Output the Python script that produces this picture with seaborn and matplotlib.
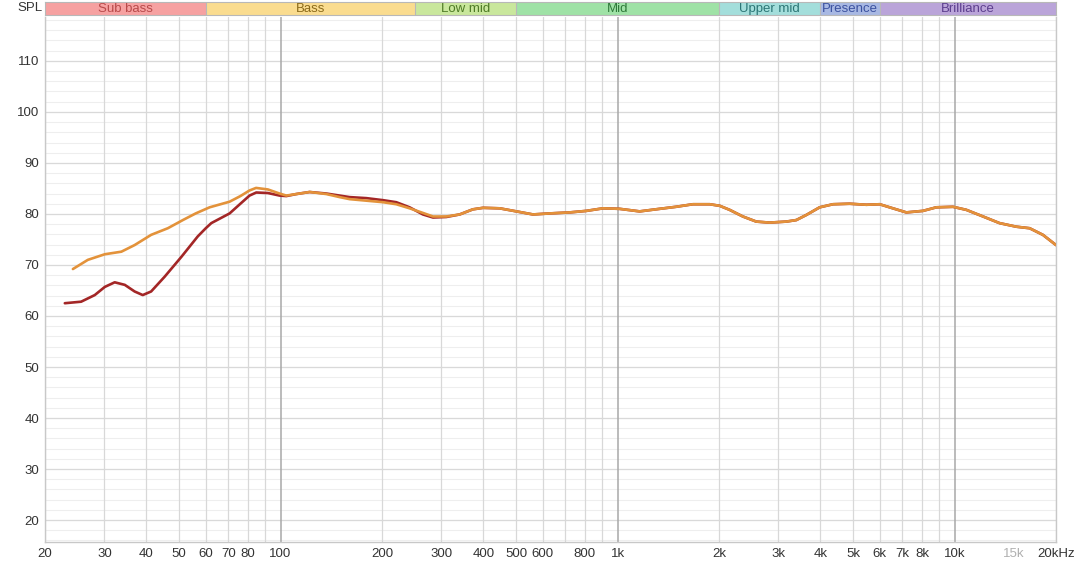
import numpy as np
import pandas as pd
import matplotlib
matplotlib.use("Agg")
import matplotlib.pyplot as plt
from matplotlib.ticker import FixedLocator, NullFormatter
import seaborn as sns

sns.set_theme(style="white")
plt.rcParams['font.family'] = ['Liberation Sans', 'DejaVu Sans']

# ---- data ----
# high part (above ~300 Hz) where both traces sit on top of each other
freq_high = [340, 372, 399, 447, 501, 561, 629, 721, 808, 905, 1014, 1163, 1333,
             1491, 1673, 1876, 2009, 2151, 2354, 2580, 2826, 3168, 3392, 3632, 3979,
             4357, 4884, 5473, 5995, 6563, 7193, 8057, 8831, 9894, 10840, 12150,
             13600, 15250, 16700, 18290, 20000]
spl_high = [79.9, 80.9, 81.2, 81.1, 80.5, 79.9, 80.1, 80.3, 80.6, 81.1, 81.0, 80.5, 81.0,
            81.4, 81.9, 81.9, 81.6, 80.8, 79.5, 78.5, 78.3, 78.5, 78.8, 79.8, 81.3,
            81.9, 82.0, 81.8, 81.9, 81.1, 80.3, 80.6, 81.3, 81.4, 80.8, 79.5,
            78.2, 77.5, 77.2, 75.9, 73.9]

# orange trace, low part
freq_orange_low = [24.2, 26.8, 30.1, 33.7, 36.9, 41.3, 46.3, 51.3, 56.0, 61.6, 70.6,
                   76.0, 80.9, 84.6, 91.7, 99.3, 104, 111.4, 122, 136.7, 149.7, 160.3,
                   179.7, 201.3, 220.5, 241.5, 264.5, 283.3, 310.2]
spl_orange_low = [69.2, 71.0, 72.1, 72.6, 73.9, 75.9, 77.2, 78.8, 80.1, 81.3, 82.4,
                  83.5, 84.6, 85.1, 84.8, 84.0, 83.6, 83.9, 84.3, 83.9, 83.3, 82.9,
                  82.6, 82.3, 81.9, 81.1, 80.2, 79.5, 79.5]

# dark red trace, low part
freq_red_low = [22.9, 25.6, 28.1, 30.1, 32.2, 34.5, 36.9, 39.0, 41.3, 45.3, 50.8, 56.8,
                60.0, 62.3, 70.6, 76.0, 80.9, 84.7, 91.7, 99.3, 104, 111.4, 122, 136.7,
                149.7, 160.3, 179.7, 201.3, 220.5, 241.5, 264.5, 283.3, 310.2]
spl_red_low = [62.5, 62.8, 64.1, 65.7, 66.6, 66.1, 64.8, 64.1, 64.8, 67.7, 71.6, 75.6,
               77.2, 78.2, 80.1, 82.0, 83.6, 84.2, 84.1, 83.6, 83.5, 83.9, 84.3, 84.0,
               83.6, 83.3, 83.1, 82.7, 82.3, 81.3, 79.9, 79.3, 79.4]

band_names = ["Sub bass", "Bass", "Low mid", "Mid", "Upper mid", "Presence", "Brilliance"]
band_edges = [20, 60, 250, 500, 2000, 4000, 6000, 20000]
band_fill = ["#F6A1A1", "#FADC8F", "#C9E79C", "#9FE2A6", "#A3DEDB", "#A8B8E3", "#BAA4D9"]
band_text = ["#B84A4A", "#8A6A1A", "#4E7A26", "#2F7A3A", "#2C7676", "#3C52A0", "#5C3E8E"]

xtick_vals = [20, 30, 40, 50, 60, 70, 80, 100, 200, 300, 400, 500, 600, 800,
              1000, 2000, 3000, 4000, 5000, 6000, 7000, 8000, 10000, 15000, 20000]
xtick_labels = ["20", "30", "40", "50", "60", "70", "80", "100", "200", "300", "400",
                "500", "600", "800", "1k", "2k", "3k", "4k", "5k", "6k", "7k", "8k",
                "10k", "15k", "20kHz"]
ytick_vals = [20, 30, 40, 50, 60, 70, 80, 90, 100, 110]

df_o = pd.DataFrame({"freq": freq_orange_low + freq_high, "spl": spl_orange_low + spl_high})
df_r = pd.DataFrame({"freq": freq_red_low + freq_high, "spl": spl_red_low + spl_high})

fig = plt.figure(figsize=(10.8, 5.66), dpi=100)
ax = fig.add_axes([45/1080, 1 - 542/566, (1056 - 45)/1080, (542 - 17)/566])
band = fig.add_axes([45/1080, 1 - 15/566, (1056 - 45)/1080, 13/566])

# grid
ax.set_xscale("log")
ax.set_xlim(20, 20000)
ax.set_ylim(15.7, 118.6)
for y in np.arange(16, 119, 2):
    ax.axhline(y, color="#eeeeee", lw=0.8, zorder=0)
for y in ytick_vals:
    ax.axhline(y, color="#d9d9d9", lw=0.9, zorder=0)
for dec in [10, 100, 1000, 10000]:
    for m in range(1, 10):
        f = dec * m
        if f < 20 or f > 20000:
            continue
        if m == 1:
            ax.axvline(f, color="#a8a8a8", lw=1.1, zorder=0)
        else:
            ax.axvline(f, color="#d8d8d8", lw=0.9, zorder=0)

line_kw = dict(lw=1.9, sort=False, solid_joinstyle="round", solid_capstyle="round")
sns.lineplot(data=df_r, x="freq", y="spl", ax=ax, color="#A32626", zorder=3, **line_kw)
sns.lineplot(data=df_o, x="freq", y="spl", ax=ax, color="#E3923A", zorder=4, **line_kw)

ax.xaxis.set_major_locator(FixedLocator(xtick_vals))
ax.set_xticklabels(xtick_labels)
ax.xaxis.set_minor_formatter(NullFormatter())
ax.set_yticks(ytick_vals)
ax.tick_params(axis="both", which="both", length=0, labelsize=9.5, colors="#333333", pad=4)
ax.get_xticklabels()[-2].set_color("#b0b0b0")
ax.set_xlabel("")
ax.set_ylabel("")
for s in ax.spines.values():
    s.set_color("#c8c8c8")
    s.set_linewidth(1.0)
ax.spines["top"].set_visible(False)

# frequency band strip
band.set_xscale("log")
band.set_xlim(20, 20000)
band.set_ylim(0, 1)
for i, name in enumerate(band_names):
    lo, hi = band_edges[i], band_edges[i + 1]
    band.axvspan(lo, hi, color=band_fill[i], lw=0)
    if i > 0:
        band.axvline(lo, color="#b8b8b8", lw=0.8)
    band.text(np.sqrt(lo * hi), 0.45, name, ha="center", va="center",
              fontsize=9.5, color=band_text[i])
band.set_xticks([])
band.set_yticks([])
band.minorticks_off()
for s in band.spines.values():
    s.set_color("#b8b8b8")
    s.set_linewidth(0.8)

fig.text(43/1080, 1 - 8/566, "SPL", ha="right", va="center", fontsize=9.5, color="#333333")

fig.savefig("out.png", dpi=100)
